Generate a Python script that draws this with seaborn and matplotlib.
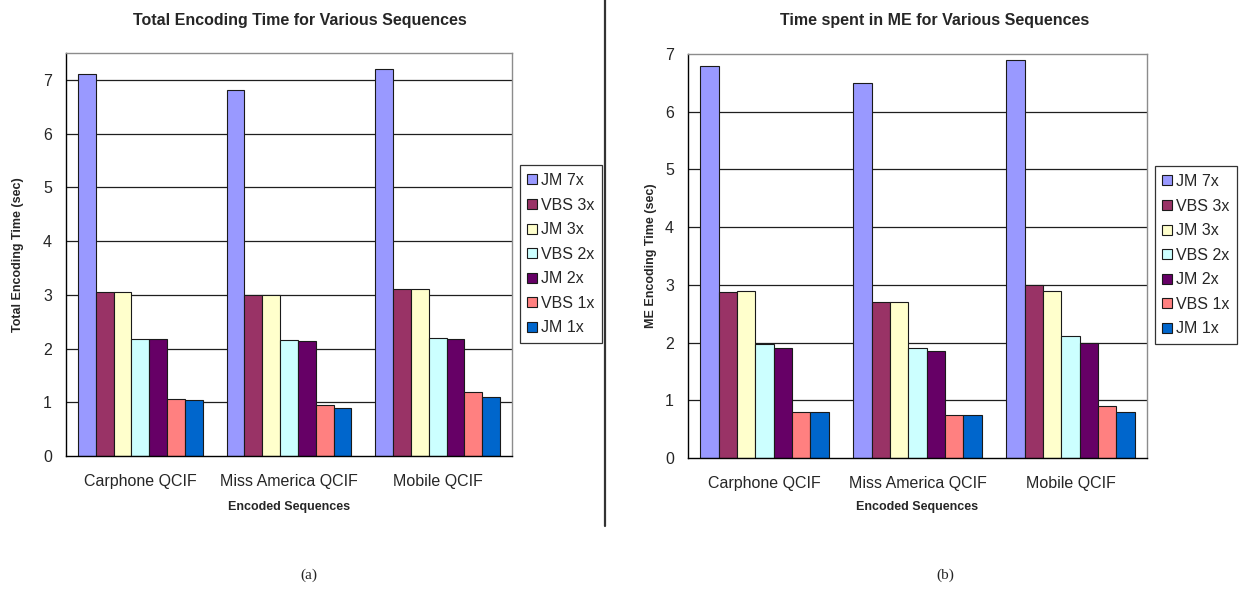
import matplotlib
matplotlib.use("Agg")
import matplotlib.pyplot as plt
import seaborn as sns
import pandas as pd
from matplotlib.lines import Line2D

# Encoded sequences and encoder configurations
sequences = ["Carphone QCIF", "Miss America QCIF", "Mobile QCIF"]
configs = ["JM 7x", "VBS 3x", "JM 3x", "VBS 2x", "JM 2x", "VBS 1x", "JM 1x"]
colors = ["#9999FF", "#993366", "#FFFFCC", "#CCFFFF", "#660066", "#FF8080", "#0066CC"]

# Total encoding time (sec), one list per sequence, ordered as configs
total_carphone = [7.10, 3.05, 3.05, 2.18, 2.18, 1.07, 1.05]
total_missam = [6.82, 3.00, 3.00, 2.16, 2.14, 0.95, 0.90]
total_mobile = [7.20, 3.10, 3.10, 2.20, 2.18, 1.19, 1.10]

# Time spent in motion estimation (sec)
me_carphone = [6.80, 2.87, 2.89, 1.97, 1.90, 0.80, 0.80]
me_missam = [6.50, 2.71, 2.71, 1.90, 1.85, 0.75, 0.75]
me_mobile = [6.90, 3.00, 2.90, 2.11, 2.00, 0.90, 0.80]

y_ticks = [0, 1, 2, 3, 4, 5, 6, 7]


def long_frame(rows):
    recs = []
    for seq, vals in zip(sequences, rows):
        for cfg, v in zip(configs, vals):
            recs.append({"seq": seq, "config": cfg, "time": v})
    return pd.DataFrame(recs)


df_total = long_frame([total_carphone, total_missam, total_mobile])
df_me = long_frame([me_carphone, me_missam, me_mobile])

sns.set_theme(style="white")
plt.rcParams["font.family"] = ["Liberation Sans", "DejaVu Sans"]

W, H = 1239, 590
fig = plt.figure(figsize=(W / 100, H / 100), dpi=100)
ax1 = fig.add_axes([66 / W, 1 - 456 / H, (512 - 66) / W, (456 - 53) / H])
ax2 = fig.add_axes([688 / W, 1 - 458 / H, (1147 - 688) / W, (458 - 54) / H])

TICK_FS = 11.5


def draw(ax, df, ymax, title, title_x, ylabel, ylabel_x, legend_xy):
    ax.set_axisbelow(True)
    for y in y_ticks[1:]:
        if y < ymax:
            ax.axhline(y, color="#1e1e1e", lw=0.9, zorder=0)
    sns.barplot(data=df, x="seq", y="time", hue="config", hue_order=configs,
                order=sequences, palette=colors, width=0.84, gap=0,
                edgecolor="#1a1a1a", linewidth=0.8, saturation=1,
                legend=False, ax=ax)
    ax.set_xlim(-0.5, 2.5)
    ax.set_ylim(0, ymax)
    ax.set_yticks(y_ticks)
    ax.set_yticklabels([str(t) for t in y_ticks], fontsize=TICK_FS)
    ax.set_xticks(range(len(sequences)))
    ax.set_xticklabels(sequences, fontsize=TICK_FS)
    ax.set_xticks([-0.5, 0.5, 1.5, 2.5], minor=True)
    ax.tick_params(axis="x", which="major", length=0, pad=13)
    ax.tick_params(axis="x", which="minor", length=6, width=0.9,
                   color="black", direction="out")
    ax.tick_params(axis="y", which="major", length=5, width=0.9,
                   color="black", direction="out", pad=5)
    for side in ("top", "right"):
        ax.spines[side].set_color("#8c8c8c")
        ax.spines[side].set_linewidth(1.0)
    for side in ("left", "bottom"):
        ax.spines[side].set_color("black")
        ax.spines[side].set_linewidth(1.0)
    ax.set_xlabel("")
    ax.set_ylabel("")

    mid_x = ax.get_position().x0 + ax.get_position().width / 2
    mid_y = ax.get_position().y0 + ax.get_position().height / 2
    fig.text(mid_x, 1 - 507 / H, "Encoded Sequences", ha="center",
             va="center", fontsize=9, fontweight="bold")
    fig.text(ylabel_x / W, mid_y, ylabel, ha="center", va="center",
             rotation=90, fontsize=9, fontweight="bold")
    fig.text(title_x / W, 1 - 20 / H, title, ha="center", va="center",
             fontsize=11.5, fontweight="bold")

    handles = [Line2D([0], [0], marker="s", linestyle="none", markersize=6.5,
                      markerfacecolor=c, markeredgecolor="#1a1a1a",
                      markeredgewidth=0.8) for c in colors]
    leg = fig.legend(handles, configs, loc="upper left",
                     bbox_to_anchor=legend_xy, fontsize=TICK_FS, frameon=True,
                     fancybox=False, edgecolor="black", handlelength=0.55,
                     handletextpad=0.25, labelspacing=0.6, borderpad=0.5,
                     borderaxespad=0)
    leg.get_frame().set_linewidth(0.9)


draw(ax1, df_total, 7.5, "Total Encoding Time for Various Sequences", 300,
     "Total Encoding Time (sec)", 18, (520 / W, 1 - 165 / H))
draw(ax2, df_me, 7.0, "Time spent in ME for Various Sequences", 935,
     "ME Encoding Time (sec)", 651, (1155 / W, 1 - 166 / H))

# divider between the two panels
fig.add_artist(Line2D([605 / W, 605 / W], [1 - 526 / H, 1.0],
                      transform=fig.transFigure, color="#333333", lw=1.6))

# panel captions
fig.text(309 / W, 1 - 575 / H, "(a)", ha="center", va="center",
         fontsize=11, family=["Liberation Serif", "DejaVu Serif"])
fig.text(945 / W, 1 - 575 / H, "(b)", ha="center", va="center",
         fontsize=11, family=["Liberation Serif", "DejaVu Serif"])

fig.savefig("out.png", dpi=100, facecolor="white")
